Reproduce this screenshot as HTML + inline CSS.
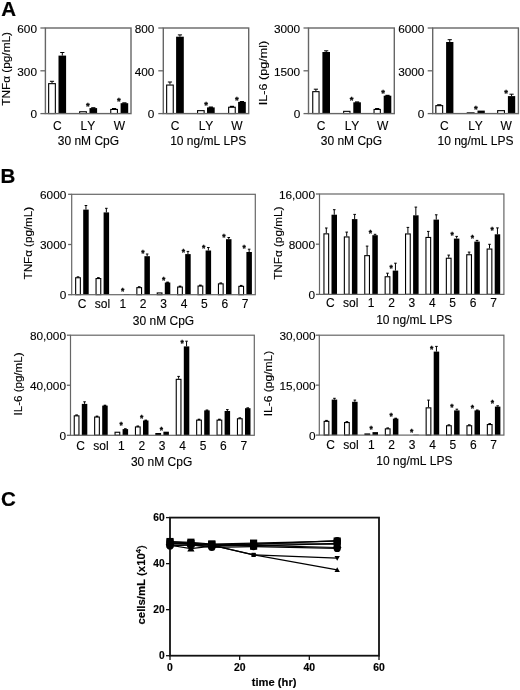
<!DOCTYPE html>
<html><head><meta charset="utf-8"><title>Figure</title>
<style>
html,body{margin:0;padding:0;background:#fff;}
body{width:520px;height:690px;overflow:hidden;}
svg{display:block;}
text{font-family:'Liberation Sans', Arial, Helvetica, sans-serif;font-kerning:none;}
</style></head>
<body>
<svg width="520" height="690" viewBox="0 0 520 690">
<rect x="0" y="0" width="520" height="690" fill="#fff"/>
<text x="1.3" y="16.2" font-size="20.5" font-weight="700" stroke="#000" stroke-width="0.2">A</text>
<line x1="52" y1="81.3" x2="52" y2="83.1" stroke="#000" stroke-width="1" stroke-linecap="butt"/>
<line x1="49.9" y1="81.3" x2="54.1" y2="81.3" stroke="#000" stroke-width="1" stroke-linecap="butt"/>
<line x1="62.3" y1="52.5" x2="62.3" y2="55.6" stroke="#000" stroke-width="1" stroke-linecap="butt"/>
<line x1="60.2" y1="52.5" x2="64.4" y2="52.5" stroke="#000" stroke-width="1" stroke-linecap="butt"/>
<rect x="48.65" y="83.65" width="6.7" height="29.9" fill="#fff" stroke="#000" stroke-width="1.1"/>
<rect x="58.5" y="55.6" width="7.6" height="58" fill="#000"/>
<rect x="91.2" y="107.2" width="4.2" height="1.4" fill="#000"/>
<rect x="79.65" y="111.75" width="6.7" height="1.8" fill="#fff" stroke="#000" stroke-width="1.1"/>
<rect x="89.5" y="108.1" width="7.6" height="5.5" fill="#000"/>
<rect x="112" y="108" width="4.2" height="1.4" fill="#000"/>
<rect x="122.3" y="102.3" width="4.2" height="1.4" fill="#000"/>
<rect x="110.75" y="109.45" width="6.7" height="4.1" fill="#fff" stroke="#000" stroke-width="1.1"/>
<rect x="120.6" y="103.2" width="7.6" height="10.4" fill="#000"/>
<rect x="45.4" y="28" width="85.6" height="85.6" fill="none" stroke="#666" stroke-width="1.4"/>
<line x1="40.4" y1="28" x2="45.4" y2="28" stroke="#666" stroke-width="1.3" stroke-linecap="butt"/>
<text x="37" y="32.7" font-size="11.8" text-anchor="end" stroke="#000" stroke-width="0.12">600</text>
<line x1="40.4" y1="70.8" x2="45.4" y2="70.8" stroke="#666" stroke-width="1.3" stroke-linecap="butt"/>
<text x="37" y="75.5" font-size="11.8" text-anchor="end" stroke="#000" stroke-width="0.12">300</text>
<line x1="40.4" y1="113.6" x2="45.4" y2="113.6" stroke="#666" stroke-width="1.3" stroke-linecap="butt"/>
<text x="37" y="118.3" font-size="11.8" text-anchor="end" stroke="#000" stroke-width="0.12">0</text>
<text x="87.9" y="108.75" font-size="9.5" text-anchor="middle" font-weight="700" stroke="#000" stroke-width="0.3">*</text>
<text x="118.8" y="103.75" font-size="9.5" text-anchor="middle" font-weight="700" stroke="#000" stroke-width="0.3">*</text>
<line x1="169.95" y1="82" x2="169.95" y2="84.5" stroke="#000" stroke-width="1" stroke-linecap="butt"/>
<line x1="167.85" y1="82" x2="172.05" y2="82" stroke="#000" stroke-width="1" stroke-linecap="butt"/>
<line x1="179.95" y1="34.9" x2="179.95" y2="36.7" stroke="#000" stroke-width="1" stroke-linecap="butt"/>
<line x1="177.85" y1="34.9" x2="182.05" y2="34.9" stroke="#000" stroke-width="1" stroke-linecap="butt"/>
<rect x="166.65" y="85.05" width="6.6" height="28.5" fill="#fff" stroke="#000" stroke-width="1.1"/>
<rect x="176.1" y="36.7" width="7.7" height="76.9" fill="#000"/>
<rect x="208.75" y="106.5" width="4.2" height="1.4" fill="#000"/>
<rect x="197.55" y="110.65" width="6.6" height="2.9" fill="#fff" stroke="#000" stroke-width="1.1"/>
<rect x="207" y="107.4" width="7.7" height="6.2" fill="#000"/>
<rect x="229.85" y="105.8" width="4.2" height="1.4" fill="#000"/>
<rect x="239.85" y="101" width="4.2" height="1.4" fill="#000"/>
<rect x="228.65" y="107.25" width="6.6" height="6.3" fill="#fff" stroke="#000" stroke-width="1.1"/>
<rect x="238.1" y="101.9" width="7.7" height="11.7" fill="#000"/>
<rect x="163.3" y="28" width="85.4" height="85.6" fill="none" stroke="#666" stroke-width="1.4"/>
<line x1="158.3" y1="28" x2="163.3" y2="28" stroke="#666" stroke-width="1.3" stroke-linecap="butt"/>
<text x="154.4" y="32.7" font-size="11.8" text-anchor="end" stroke="#000" stroke-width="0.12">800</text>
<line x1="158.3" y1="70.8" x2="163.3" y2="70.8" stroke="#666" stroke-width="1.3" stroke-linecap="butt"/>
<text x="154.4" y="75.5" font-size="11.8" text-anchor="end" stroke="#000" stroke-width="0.12">400</text>
<line x1="158.3" y1="113.6" x2="163.3" y2="113.6" stroke="#666" stroke-width="1.3" stroke-linecap="butt"/>
<text x="154.4" y="118.3" font-size="11.8" text-anchor="end" stroke="#000" stroke-width="0.12">0</text>
<text x="206" y="108.05" font-size="9.5" text-anchor="middle" font-weight="700" stroke="#000" stroke-width="0.3">*</text>
<text x="236.9" y="102.55" font-size="9.5" text-anchor="middle" font-weight="700" stroke="#000" stroke-width="0.3">*</text>
<line x1="315.9" y1="89.2" x2="315.9" y2="91.1" stroke="#000" stroke-width="1" stroke-linecap="butt"/>
<line x1="313.8" y1="89.2" x2="318" y2="89.2" stroke="#000" stroke-width="1" stroke-linecap="butt"/>
<line x1="326.2" y1="50.8" x2="326.2" y2="52" stroke="#000" stroke-width="1" stroke-linecap="butt"/>
<line x1="324.1" y1="50.8" x2="328.3" y2="50.8" stroke="#000" stroke-width="1" stroke-linecap="butt"/>
<rect x="312.75" y="91.65" width="6.3" height="21.9" fill="#fff" stroke="#000" stroke-width="1.1"/>
<rect x="322.4" y="52" width="7.6" height="61.6" fill="#000"/>
<rect x="355" y="101.4" width="4.2" height="1.4" fill="#000"/>
<rect x="343.65" y="111.35" width="6.3" height="2.2" fill="#fff" stroke="#000" stroke-width="1.1"/>
<rect x="353.3" y="102.3" width="7.6" height="11.3" fill="#000"/>
<rect x="375.1" y="108" width="4.2" height="1.4" fill="#000"/>
<rect x="385.4" y="94.8" width="4.2" height="1.4" fill="#000"/>
<rect x="374.05" y="109.45" width="6.3" height="4.1" fill="#fff" stroke="#000" stroke-width="1.1"/>
<rect x="383.7" y="95.7" width="7.6" height="17.9" fill="#000"/>
<rect x="308.5" y="28" width="85.8" height="85.6" fill="none" stroke="#666" stroke-width="1.4"/>
<line x1="303.5" y1="28" x2="308.5" y2="28" stroke="#666" stroke-width="1.3" stroke-linecap="butt"/>
<text x="300.2" y="32.7" font-size="11.8" text-anchor="end" stroke="#000" stroke-width="0.12">3000</text>
<line x1="303.5" y1="70.8" x2="308.5" y2="70.8" stroke="#666" stroke-width="1.3" stroke-linecap="butt"/>
<text x="300.2" y="75.5" font-size="11.8" text-anchor="end" stroke="#000" stroke-width="0.12">1500</text>
<line x1="303.5" y1="113.6" x2="308.5" y2="113.6" stroke="#666" stroke-width="1.3" stroke-linecap="butt"/>
<text x="300.2" y="118.3" font-size="11.8" text-anchor="end" stroke="#000" stroke-width="0.12">0</text>
<text x="351.6" y="103.25" font-size="9.5" text-anchor="middle" font-weight="700" stroke="#000" stroke-width="0.3">*</text>
<text x="383" y="96.25" font-size="9.5" text-anchor="middle" font-weight="700" stroke="#000" stroke-width="0.3">*</text>
<rect x="437.15" y="104.2" width="4.2" height="1.4" fill="#000"/>
<line x1="449.75" y1="39.7" x2="449.75" y2="42" stroke="#000" stroke-width="1" stroke-linecap="butt"/>
<line x1="447.65" y1="39.7" x2="451.85" y2="39.7" stroke="#000" stroke-width="1" stroke-linecap="butt"/>
<rect x="435.85" y="105.65" width="6.8" height="7.9" fill="#fff" stroke="#000" stroke-width="1.1"/>
<rect x="446.1" y="42" width="7.3" height="71.6" fill="#000"/>
<rect x="466.7" y="112.3" width="7.9" height="1.3" fill="#000"/>
<rect x="477.5" y="110.6" width="7.3" height="3" fill="#000"/>
<line x1="511.55" y1="94.2" x2="511.55" y2="96.1" stroke="#000" stroke-width="1" stroke-linecap="butt"/>
<line x1="509.45" y1="94.2" x2="513.65" y2="94.2" stroke="#000" stroke-width="1" stroke-linecap="butt"/>
<rect x="497.65" y="110.65" width="6.8" height="2.9" fill="#fff" stroke="#000" stroke-width="1.1"/>
<rect x="507.9" y="96.1" width="7.3" height="17.5" fill="#000"/>
<rect x="432.7" y="28" width="85.7" height="85.6" fill="none" stroke="#666" stroke-width="1.4"/>
<line x1="427.7" y1="28" x2="432.7" y2="28" stroke="#666" stroke-width="1.3" stroke-linecap="butt"/>
<text x="424.4" y="32.7" font-size="11.8" text-anchor="end" stroke="#000" stroke-width="0.12">6000</text>
<line x1="427.7" y1="70.8" x2="432.7" y2="70.8" stroke="#666" stroke-width="1.3" stroke-linecap="butt"/>
<text x="424.4" y="75.5" font-size="11.8" text-anchor="end" stroke="#000" stroke-width="0.12">3000</text>
<line x1="427.7" y1="113.6" x2="432.7" y2="113.6" stroke="#666" stroke-width="1.3" stroke-linecap="butt"/>
<text x="424.4" y="118.3" font-size="11.8" text-anchor="end" stroke="#000" stroke-width="0.12">0</text>
<text x="475.9" y="111.75" font-size="9.5" text-anchor="middle" font-weight="700" stroke="#000" stroke-width="0.3">*</text>
<text x="506.2" y="95.75" font-size="9.5" text-anchor="middle" font-weight="700" stroke="#000" stroke-width="0.3">*</text>
<text x="57.3" y="130" font-size="12" text-anchor="middle" stroke="#000" stroke-width="0.12">C</text>
<text x="87.8" y="130" font-size="12" text-anchor="middle" stroke="#000" stroke-width="0.12">LY</text>
<text x="119.3" y="130" font-size="12" text-anchor="middle" stroke="#000" stroke-width="0.12">W</text>
<text x="175.2" y="130" font-size="12" text-anchor="middle" stroke="#000" stroke-width="0.12">C</text>
<text x="206" y="130" font-size="12" text-anchor="middle" stroke="#000" stroke-width="0.12">LY</text>
<text x="237" y="130" font-size="12" text-anchor="middle" stroke="#000" stroke-width="0.12">W</text>
<text x="321" y="130" font-size="12" text-anchor="middle" stroke="#000" stroke-width="0.12">C</text>
<text x="352" y="130" font-size="12" text-anchor="middle" stroke="#000" stroke-width="0.12">LY</text>
<text x="382.6" y="130" font-size="12" text-anchor="middle" stroke="#000" stroke-width="0.12">W</text>
<text x="444.4" y="130" font-size="12" text-anchor="middle" stroke="#000" stroke-width="0.12">C</text>
<text x="475.5" y="130" font-size="12" text-anchor="middle" stroke="#000" stroke-width="0.12">LY</text>
<text x="506.2" y="130" font-size="12" text-anchor="middle" stroke="#000" stroke-width="0.12">W</text>
<text x="88.4" y="145" font-size="12" text-anchor="middle" stroke="#000" stroke-width="0.12">30 nM CpG</text>
<text x="208.2" y="145" font-size="12" text-anchor="middle" stroke="#000" stroke-width="0.12">10 ng/mL LPS</text>
<text x="351.4" y="145" font-size="12" text-anchor="middle" stroke="#000" stroke-width="0.12">30 nM CpG</text>
<text x="475.5" y="145" font-size="12" text-anchor="middle" stroke="#000" stroke-width="0.12">10 ng/mL LPS</text>
<text x="10" y="68.9" font-size="11.3" text-anchor="middle" textLength="73.8" lengthAdjust="spacingAndGlyphs" transform="rotate(-90 10 68.9)" stroke="#000" stroke-width="0.12">TNF&#945; (pg/mL)</text>
<text x="267.25" y="72.95" font-size="11.3" text-anchor="middle" textLength="64.6" lengthAdjust="spacingAndGlyphs" transform="rotate(-90 267.25 72.95)" stroke="#000" stroke-width="0.12">IL-6 (pg/ml)</text>
<text x="0.6" y="183.4" font-size="20.5" font-weight="700" stroke="#000" stroke-width="0.2">B</text>
<rect x="76.7" y="276.3" width="2.6" height="1.4" fill="#000"/>
<line x1="85.95" y1="205.5" x2="85.95" y2="209.6" stroke="#000" stroke-width="1" stroke-linecap="butt"/>
<line x1="84.65" y1="205.5" x2="87.25" y2="205.5" stroke="#000" stroke-width="1" stroke-linecap="butt"/>
<rect x="75.65" y="277.75" width="4.7" height="16.9" fill="#fff" stroke="#000" stroke-width="1.1"/>
<rect x="83.2" y="209.6" width="5.5" height="85.1" fill="#000"/>
<rect x="97.1" y="277.1" width="2.6" height="1.4" fill="#000"/>
<line x1="106.35" y1="208.3" x2="106.35" y2="212.4" stroke="#000" stroke-width="1" stroke-linecap="butt"/>
<line x1="105.05" y1="208.3" x2="107.65" y2="208.3" stroke="#000" stroke-width="1" stroke-linecap="butt"/>
<rect x="96.05" y="278.55" width="4.7" height="16.1" fill="#fff" stroke="#000" stroke-width="1.1"/>
<rect x="103.6" y="212.4" width="5.5" height="82.3" fill="#000"/>
<rect x="124" y="294" width="5.5" height="0.7" fill="#000"/>
<rect x="137.9" y="286.2" width="2.6" height="1.4" fill="#000"/>
<line x1="147.15" y1="254" x2="147.15" y2="256.2" stroke="#000" stroke-width="1" stroke-linecap="butt"/>
<line x1="145.85" y1="254" x2="148.45" y2="254" stroke="#000" stroke-width="1" stroke-linecap="butt"/>
<rect x="136.85" y="287.65" width="4.7" height="7" fill="#fff" stroke="#000" stroke-width="1.1"/>
<rect x="144.4" y="256.2" width="5.5" height="38.5" fill="#000"/>
<rect x="166.25" y="281.6" width="2.6" height="1.4" fill="#000"/>
<rect x="157.25" y="292.95" width="4.7" height="1.7" fill="#fff" stroke="#000" stroke-width="1.1"/>
<rect x="164.8" y="282.5" width="5.5" height="12.2" fill="#000"/>
<rect x="178.7" y="285.6" width="2.6" height="1.4" fill="#000"/>
<line x1="187.95" y1="251.4" x2="187.95" y2="254.1" stroke="#000" stroke-width="1" stroke-linecap="butt"/>
<line x1="186.65" y1="251.4" x2="189.25" y2="251.4" stroke="#000" stroke-width="1" stroke-linecap="butt"/>
<rect x="177.65" y="287.05" width="4.7" height="7.6" fill="#fff" stroke="#000" stroke-width="1.1"/>
<rect x="185.2" y="254.1" width="5.5" height="40.6" fill="#000"/>
<rect x="199.1" y="284.6" width="2.6" height="1.4" fill="#000"/>
<line x1="208.35" y1="247.5" x2="208.35" y2="250.5" stroke="#000" stroke-width="1" stroke-linecap="butt"/>
<line x1="207.05" y1="247.5" x2="209.65" y2="247.5" stroke="#000" stroke-width="1" stroke-linecap="butt"/>
<rect x="198.05" y="286.05" width="4.7" height="8.6" fill="#fff" stroke="#000" stroke-width="1.1"/>
<rect x="205.6" y="250.5" width="5.5" height="44.2" fill="#000"/>
<rect x="219.5" y="282.4" width="2.6" height="1.4" fill="#000"/>
<line x1="228.75" y1="237.5" x2="228.75" y2="239.2" stroke="#000" stroke-width="1" stroke-linecap="butt"/>
<line x1="227.45" y1="237.5" x2="230.05" y2="237.5" stroke="#000" stroke-width="1" stroke-linecap="butt"/>
<rect x="218.45" y="283.85" width="4.7" height="10.8" fill="#fff" stroke="#000" stroke-width="1.1"/>
<rect x="226" y="239.2" width="5.5" height="55.5" fill="#000"/>
<rect x="239.9" y="284.9" width="2.6" height="1.4" fill="#000"/>
<line x1="249.15" y1="249.2" x2="249.15" y2="252" stroke="#000" stroke-width="1" stroke-linecap="butt"/>
<line x1="247.85" y1="249.2" x2="250.45" y2="249.2" stroke="#000" stroke-width="1" stroke-linecap="butt"/>
<rect x="238.85" y="286.35" width="4.7" height="8.3" fill="#fff" stroke="#000" stroke-width="1.1"/>
<rect x="246.4" y="252" width="5.5" height="42.7" fill="#000"/>
<rect x="71.7" y="194.3" width="183.6" height="100.4" fill="none" stroke="#666" stroke-width="1.2"/>
<line x1="68.1" y1="194.3" x2="71.7" y2="194.3" stroke="#666" stroke-width="1.3" stroke-linecap="butt"/>
<text x="66.3" y="199" font-size="11.8" text-anchor="end" stroke="#000" stroke-width="0.12">6000</text>
<line x1="68.1" y1="244.5" x2="71.7" y2="244.5" stroke="#666" stroke-width="1.3" stroke-linecap="butt"/>
<text x="66.3" y="249.2" font-size="11.8" text-anchor="end" stroke="#000" stroke-width="0.12">3000</text>
<line x1="68.1" y1="294.7" x2="71.7" y2="294.7" stroke="#666" stroke-width="1.3" stroke-linecap="butt"/>
<text x="66.3" y="299.4" font-size="11.8" text-anchor="end" stroke="#000" stroke-width="0.12">0</text>
<text x="122.7" y="294.45" font-size="8.5" text-anchor="middle" font-weight="700" stroke="#000" stroke-width="0.3">*</text>
<text x="142.8" y="256.15" font-size="8.5" text-anchor="middle" font-weight="700" stroke="#000" stroke-width="0.3">*</text>
<text x="163.6" y="282.75" font-size="8.5" text-anchor="middle" font-weight="700" stroke="#000" stroke-width="0.3">*</text>
<text x="183.4" y="254.65" font-size="8.5" text-anchor="middle" font-weight="700" stroke="#000" stroke-width="0.3">*</text>
<text x="203.7" y="250.55" font-size="8.5" text-anchor="middle" font-weight="700" stroke="#000" stroke-width="0.3">*</text>
<text x="224" y="239.85" font-size="8.5" text-anchor="middle" font-weight="700" stroke="#000" stroke-width="0.3">*</text>
<text x="244.2" y="251.45" font-size="8.5" text-anchor="middle" font-weight="700" stroke="#000" stroke-width="0.3">*</text>
<line x1="326.3" y1="228" x2="326.3" y2="233.3" stroke="#000" stroke-width="1" stroke-linecap="butt"/>
<line x1="325" y1="228" x2="327.6" y2="228" stroke="#000" stroke-width="1" stroke-linecap="butt"/>
<line x1="334.25" y1="209.7" x2="334.25" y2="214.7" stroke="#000" stroke-width="1" stroke-linecap="butt"/>
<line x1="332.95" y1="209.7" x2="335.55" y2="209.7" stroke="#000" stroke-width="1" stroke-linecap="butt"/>
<rect x="323.95" y="233.85" width="4.7" height="60.5" fill="#fff" stroke="#000" stroke-width="1.1"/>
<rect x="331.5" y="214.7" width="5.5" height="79.7" fill="#000"/>
<line x1="346.7" y1="232.1" x2="346.7" y2="236.4" stroke="#000" stroke-width="1" stroke-linecap="butt"/>
<line x1="345.4" y1="232.1" x2="348" y2="232.1" stroke="#000" stroke-width="1" stroke-linecap="butt"/>
<line x1="354.65" y1="214.4" x2="354.65" y2="219.1" stroke="#000" stroke-width="1" stroke-linecap="butt"/>
<line x1="353.35" y1="214.4" x2="355.95" y2="214.4" stroke="#000" stroke-width="1" stroke-linecap="butt"/>
<rect x="344.35" y="236.95" width="4.7" height="57.4" fill="#fff" stroke="#000" stroke-width="1.1"/>
<rect x="351.9" y="219.1" width="5.5" height="75.3" fill="#000"/>
<line x1="367.1" y1="246.1" x2="367.1" y2="255.1" stroke="#000" stroke-width="1" stroke-linecap="butt"/>
<line x1="365.8" y1="246.1" x2="368.4" y2="246.1" stroke="#000" stroke-width="1" stroke-linecap="butt"/>
<line x1="375.05" y1="234.3" x2="375.05" y2="235.2" stroke="#000" stroke-width="1" stroke-linecap="butt"/>
<line x1="373.75" y1="234.3" x2="376.35" y2="234.3" stroke="#000" stroke-width="1" stroke-linecap="butt"/>
<rect x="364.75" y="255.65" width="4.7" height="38.7" fill="#fff" stroke="#000" stroke-width="1.1"/>
<rect x="372.3" y="235.2" width="5.5" height="59.2" fill="#000"/>
<line x1="387.5" y1="273.2" x2="387.5" y2="276.2" stroke="#000" stroke-width="1" stroke-linecap="butt"/>
<line x1="386.2" y1="273.2" x2="388.8" y2="273.2" stroke="#000" stroke-width="1" stroke-linecap="butt"/>
<line x1="395.45" y1="263.2" x2="395.45" y2="270.6" stroke="#000" stroke-width="1" stroke-linecap="butt"/>
<line x1="394.15" y1="263.2" x2="396.75" y2="263.2" stroke="#000" stroke-width="1" stroke-linecap="butt"/>
<rect x="385.15" y="276.75" width="4.7" height="17.6" fill="#fff" stroke="#000" stroke-width="1.1"/>
<rect x="392.7" y="270.6" width="5.5" height="23.8" fill="#000"/>
<line x1="407.9" y1="227.4" x2="407.9" y2="233.4" stroke="#000" stroke-width="1" stroke-linecap="butt"/>
<line x1="406.6" y1="227.4" x2="409.2" y2="227.4" stroke="#000" stroke-width="1" stroke-linecap="butt"/>
<line x1="415.85" y1="207.1" x2="415.85" y2="215.3" stroke="#000" stroke-width="1" stroke-linecap="butt"/>
<line x1="414.55" y1="207.1" x2="417.15" y2="207.1" stroke="#000" stroke-width="1" stroke-linecap="butt"/>
<rect x="405.55" y="233.95" width="4.7" height="60.4" fill="#fff" stroke="#000" stroke-width="1.1"/>
<rect x="413.1" y="215.3" width="5.5" height="79.1" fill="#000"/>
<line x1="428.3" y1="231.4" x2="428.3" y2="236.9" stroke="#000" stroke-width="1" stroke-linecap="butt"/>
<line x1="427" y1="231.4" x2="429.6" y2="231.4" stroke="#000" stroke-width="1" stroke-linecap="butt"/>
<line x1="436.25" y1="214.8" x2="436.25" y2="219.6" stroke="#000" stroke-width="1" stroke-linecap="butt"/>
<line x1="434.95" y1="214.8" x2="437.55" y2="214.8" stroke="#000" stroke-width="1" stroke-linecap="butt"/>
<rect x="425.95" y="237.45" width="4.7" height="56.9" fill="#fff" stroke="#000" stroke-width="1.1"/>
<rect x="433.5" y="219.6" width="5.5" height="74.8" fill="#000"/>
<line x1="448.7" y1="255.1" x2="448.7" y2="257.7" stroke="#000" stroke-width="1" stroke-linecap="butt"/>
<line x1="447.4" y1="255.1" x2="450" y2="255.1" stroke="#000" stroke-width="1" stroke-linecap="butt"/>
<line x1="456.65" y1="236.4" x2="456.65" y2="238.6" stroke="#000" stroke-width="1" stroke-linecap="butt"/>
<line x1="455.35" y1="236.4" x2="457.95" y2="236.4" stroke="#000" stroke-width="1" stroke-linecap="butt"/>
<rect x="446.35" y="258.25" width="4.7" height="36.1" fill="#fff" stroke="#000" stroke-width="1.1"/>
<rect x="453.9" y="238.6" width="5.5" height="55.8" fill="#000"/>
<line x1="469.1" y1="252.1" x2="469.1" y2="254.2" stroke="#000" stroke-width="1" stroke-linecap="butt"/>
<line x1="467.8" y1="252.1" x2="470.4" y2="252.1" stroke="#000" stroke-width="1" stroke-linecap="butt"/>
<line x1="477.05" y1="240.4" x2="477.05" y2="241.6" stroke="#000" stroke-width="1" stroke-linecap="butt"/>
<line x1="475.75" y1="240.4" x2="478.35" y2="240.4" stroke="#000" stroke-width="1" stroke-linecap="butt"/>
<rect x="466.75" y="254.75" width="4.7" height="39.6" fill="#fff" stroke="#000" stroke-width="1.1"/>
<rect x="474.3" y="241.6" width="5.5" height="52.8" fill="#000"/>
<line x1="489.5" y1="244.3" x2="489.5" y2="248.5" stroke="#000" stroke-width="1" stroke-linecap="butt"/>
<line x1="488.2" y1="244.3" x2="490.8" y2="244.3" stroke="#000" stroke-width="1" stroke-linecap="butt"/>
<line x1="497.45" y1="227.9" x2="497.45" y2="234.3" stroke="#000" stroke-width="1" stroke-linecap="butt"/>
<line x1="496.15" y1="227.9" x2="498.75" y2="227.9" stroke="#000" stroke-width="1" stroke-linecap="butt"/>
<rect x="487.15" y="249.05" width="4.7" height="45.3" fill="#fff" stroke="#000" stroke-width="1.1"/>
<rect x="494.7" y="234.3" width="5.5" height="60.1" fill="#000"/>
<rect x="319.5" y="194" width="184.4" height="100.4" fill="none" stroke="#666" stroke-width="1.2"/>
<line x1="315.9" y1="194" x2="319.5" y2="194" stroke="#666" stroke-width="1.3" stroke-linecap="butt"/>
<text x="315" y="198.7" font-size="11.8" text-anchor="end" stroke="#000" stroke-width="0.12">16,000</text>
<line x1="315.9" y1="244.2" x2="319.5" y2="244.2" stroke="#666" stroke-width="1.3" stroke-linecap="butt"/>
<text x="315" y="248.9" font-size="11.8" text-anchor="end" stroke="#000" stroke-width="0.12">8000</text>
<line x1="315.9" y1="294.4" x2="319.5" y2="294.4" stroke="#666" stroke-width="1.3" stroke-linecap="butt"/>
<text x="315" y="299.1" font-size="11.8" text-anchor="end" stroke="#000" stroke-width="0.12">0</text>
<text x="370.5" y="235.95" font-size="8.5" text-anchor="middle" font-weight="700" stroke="#000" stroke-width="0.3">*</text>
<text x="391.1" y="270.55" font-size="8.5" text-anchor="middle" font-weight="700" stroke="#000" stroke-width="0.3">*</text>
<text x="452.1" y="238.25" font-size="8.5" text-anchor="middle" font-weight="700" stroke="#000" stroke-width="0.3">*</text>
<text x="472.3" y="241.15" font-size="8.5" text-anchor="middle" font-weight="700" stroke="#000" stroke-width="0.3">*</text>
<text x="492.2" y="233.35" font-size="8.5" text-anchor="middle" font-weight="700" stroke="#000" stroke-width="0.3">*</text>
<rect x="75.3" y="414.4" width="2.6" height="1.4" fill="#000"/>
<line x1="84.55" y1="401.8" x2="84.55" y2="403.9" stroke="#000" stroke-width="1" stroke-linecap="butt"/>
<line x1="83.25" y1="401.8" x2="85.85" y2="401.8" stroke="#000" stroke-width="1" stroke-linecap="butt"/>
<rect x="74.25" y="415.85" width="4.7" height="19.4" fill="#fff" stroke="#000" stroke-width="1.1"/>
<rect x="81.8" y="403.9" width="5.5" height="31.4" fill="#000"/>
<rect x="95.7" y="415.6" width="2.6" height="1.4" fill="#000"/>
<rect x="103.65" y="404.7" width="2.6" height="1.4" fill="#000"/>
<rect x="94.65" y="417.05" width="4.7" height="18.2" fill="#fff" stroke="#000" stroke-width="1.1"/>
<rect x="102.2" y="405.6" width="5.5" height="29.7" fill="#000"/>
<rect x="124.05" y="428.2" width="2.6" height="1.4" fill="#000"/>
<rect x="115.05" y="432.25" width="4.7" height="3" fill="#fff" stroke="#000" stroke-width="1.1"/>
<rect x="122.6" y="429.1" width="5.5" height="6.2" fill="#000"/>
<rect x="136.5" y="425.5" width="2.6" height="1.4" fill="#000"/>
<rect x="144.45" y="419.6" width="2.6" height="1.4" fill="#000"/>
<rect x="135.45" y="426.95" width="4.7" height="8.3" fill="#fff" stroke="#000" stroke-width="1.1"/>
<rect x="143" y="420.5" width="5.5" height="14.8" fill="#000"/>
<rect x="155.3" y="433" width="5.8" height="2.3" fill="#000"/>
<rect x="163.4" y="431.7" width="5.5" height="3.6" fill="#000"/>
<line x1="178.6" y1="376.4" x2="178.6" y2="378.8" stroke="#000" stroke-width="1" stroke-linecap="butt"/>
<line x1="177.3" y1="376.4" x2="179.9" y2="376.4" stroke="#000" stroke-width="1" stroke-linecap="butt"/>
<line x1="186.55" y1="341.2" x2="186.55" y2="346.4" stroke="#000" stroke-width="1" stroke-linecap="butt"/>
<line x1="185.25" y1="341.2" x2="187.85" y2="341.2" stroke="#000" stroke-width="1" stroke-linecap="butt"/>
<rect x="176.25" y="379.35" width="4.7" height="55.9" fill="#fff" stroke="#000" stroke-width="1.1"/>
<rect x="183.8" y="346.4" width="5.5" height="88.9" fill="#000"/>
<rect x="197.7" y="418.7" width="2.6" height="1.4" fill="#000"/>
<rect x="205.65" y="409.5" width="2.6" height="1.4" fill="#000"/>
<rect x="196.65" y="420.15" width="4.7" height="15.1" fill="#fff" stroke="#000" stroke-width="1.1"/>
<rect x="204.2" y="410.4" width="5.5" height="24.9" fill="#000"/>
<rect x="218.1" y="418.7" width="2.6" height="1.4" fill="#000"/>
<line x1="227.35" y1="409.6" x2="227.35" y2="411" stroke="#000" stroke-width="1" stroke-linecap="butt"/>
<line x1="226.05" y1="409.6" x2="228.65" y2="409.6" stroke="#000" stroke-width="1" stroke-linecap="butt"/>
<rect x="217.05" y="420.15" width="4.7" height="15.1" fill="#fff" stroke="#000" stroke-width="1.1"/>
<rect x="224.6" y="411" width="5.5" height="24.3" fill="#000"/>
<rect x="238.5" y="417.3" width="2.6" height="1.4" fill="#000"/>
<rect x="246.45" y="407.3" width="2.6" height="1.4" fill="#000"/>
<rect x="237.45" y="418.75" width="4.7" height="16.5" fill="#fff" stroke="#000" stroke-width="1.1"/>
<rect x="245" y="408.2" width="5.5" height="27.1" fill="#000"/>
<rect x="70.5" y="335.2" width="183.8" height="100.1" fill="none" stroke="#666" stroke-width="1.2"/>
<line x1="66.9" y1="335.2" x2="70.5" y2="335.2" stroke="#666" stroke-width="1.3" stroke-linecap="butt"/>
<text x="66" y="339.9" font-size="11.8" text-anchor="end" stroke="#000" stroke-width="0.12">80,000</text>
<line x1="66.9" y1="385.25" x2="70.5" y2="385.25" stroke="#666" stroke-width="1.3" stroke-linecap="butt"/>
<text x="66" y="389.95" font-size="11.8" text-anchor="end" stroke="#000" stroke-width="0.12">40,000</text>
<line x1="66.9" y1="435.3" x2="70.5" y2="435.3" stroke="#666" stroke-width="1.3" stroke-linecap="butt"/>
<text x="66" y="440" font-size="11.8" text-anchor="end" stroke="#000" stroke-width="0.12">0</text>
<text x="121.2" y="428.15" font-size="8.5" text-anchor="middle" font-weight="700" stroke="#000" stroke-width="0.3">*</text>
<text x="141.6" y="420.75" font-size="8.5" text-anchor="middle" font-weight="700" stroke="#000" stroke-width="0.3">*</text>
<text x="161.5" y="432.55" font-size="8.5" text-anchor="middle" font-weight="700" stroke="#000" stroke-width="0.3">*</text>
<text x="182.2" y="346.35" font-size="8.5" text-anchor="middle" font-weight="700" stroke="#000" stroke-width="0.3">*</text>
<rect x="325.2" y="419.9" width="2.6" height="1.4" fill="#000"/>
<line x1="334.45" y1="398.3" x2="334.45" y2="399.6" stroke="#000" stroke-width="1" stroke-linecap="butt"/>
<line x1="333.15" y1="398.3" x2="335.75" y2="398.3" stroke="#000" stroke-width="1" stroke-linecap="butt"/>
<rect x="324.15" y="421.35" width="4.7" height="13.7" fill="#fff" stroke="#000" stroke-width="1.1"/>
<rect x="331.7" y="399.6" width="5.5" height="35.5" fill="#000"/>
<rect x="345.6" y="421.1" width="2.6" height="1.4" fill="#000"/>
<line x1="354.85" y1="400.1" x2="354.85" y2="401.8" stroke="#000" stroke-width="1" stroke-linecap="butt"/>
<line x1="353.55" y1="400.1" x2="356.15" y2="400.1" stroke="#000" stroke-width="1" stroke-linecap="butt"/>
<rect x="344.55" y="422.55" width="4.7" height="12.5" fill="#fff" stroke="#000" stroke-width="1.1"/>
<rect x="352.1" y="401.8" width="5.5" height="33.3" fill="#000"/>
<rect x="364.4" y="433.4" width="5.8" height="1.7" fill="#000"/>
<rect x="372.5" y="432.1" width="5.5" height="3" fill="#000"/>
<rect x="386.4" y="427.4" width="2.6" height="1.4" fill="#000"/>
<rect x="394.35" y="417.7" width="2.6" height="1.4" fill="#000"/>
<rect x="385.35" y="428.85" width="4.7" height="6.2" fill="#fff" stroke="#000" stroke-width="1.1"/>
<rect x="392.9" y="418.6" width="5.5" height="16.5" fill="#000"/>
<rect x="413.3" y="434.7" width="5.5" height="0.4" fill="#000"/>
<line x1="428.5" y1="400.1" x2="428.5" y2="407.3" stroke="#000" stroke-width="1" stroke-linecap="butt"/>
<line x1="427.2" y1="400.1" x2="429.8" y2="400.1" stroke="#000" stroke-width="1" stroke-linecap="butt"/>
<line x1="436.45" y1="346.4" x2="436.45" y2="351.6" stroke="#000" stroke-width="1" stroke-linecap="butt"/>
<line x1="435.15" y1="346.4" x2="437.75" y2="346.4" stroke="#000" stroke-width="1" stroke-linecap="butt"/>
<rect x="426.15" y="407.85" width="4.7" height="27.2" fill="#fff" stroke="#000" stroke-width="1.1"/>
<rect x="433.7" y="351.6" width="5.5" height="83.5" fill="#000"/>
<rect x="447.6" y="424.3" width="2.6" height="1.4" fill="#000"/>
<line x1="456.85" y1="409.2" x2="456.85" y2="410.4" stroke="#000" stroke-width="1" stroke-linecap="butt"/>
<line x1="455.55" y1="409.2" x2="458.15" y2="409.2" stroke="#000" stroke-width="1" stroke-linecap="butt"/>
<rect x="446.55" y="425.75" width="4.7" height="9.3" fill="#fff" stroke="#000" stroke-width="1.1"/>
<rect x="454.1" y="410.4" width="5.5" height="24.7" fill="#000"/>
<rect x="468" y="424.3" width="2.6" height="1.4" fill="#000"/>
<rect x="475.95" y="409.5" width="2.6" height="1.4" fill="#000"/>
<rect x="466.95" y="425.75" width="4.7" height="9.3" fill="#fff" stroke="#000" stroke-width="1.1"/>
<rect x="474.5" y="410.4" width="5.5" height="24.7" fill="#000"/>
<rect x="488.4" y="423.1" width="2.6" height="1.4" fill="#000"/>
<line x1="497.65" y1="405.8" x2="497.65" y2="406.6" stroke="#000" stroke-width="1" stroke-linecap="butt"/>
<line x1="496.35" y1="405.8" x2="498.95" y2="405.8" stroke="#000" stroke-width="1" stroke-linecap="butt"/>
<rect x="487.35" y="424.55" width="4.7" height="10.5" fill="#fff" stroke="#000" stroke-width="1.1"/>
<rect x="494.9" y="406.6" width="5.5" height="28.5" fill="#000"/>
<rect x="319.3" y="335.2" width="184.6" height="99.9" fill="none" stroke="#666" stroke-width="1.2"/>
<line x1="315.7" y1="335.2" x2="319.3" y2="335.2" stroke="#666" stroke-width="1.3" stroke-linecap="butt"/>
<text x="315.6" y="339.9" font-size="11.8" text-anchor="end" stroke="#000" stroke-width="0.12">30,000</text>
<line x1="315.7" y1="385.15" x2="319.3" y2="385.15" stroke="#666" stroke-width="1.3" stroke-linecap="butt"/>
<text x="315.6" y="389.85" font-size="11.8" text-anchor="end" stroke="#000" stroke-width="0.12">15,000</text>
<line x1="315.7" y1="435.1" x2="319.3" y2="435.1" stroke="#666" stroke-width="1.3" stroke-linecap="butt"/>
<text x="315.6" y="439.8" font-size="11.8" text-anchor="end" stroke="#000" stroke-width="0.12">0</text>
<text x="371.2" y="432.35" font-size="8.5" text-anchor="middle" font-weight="700" stroke="#000" stroke-width="0.3">*</text>
<text x="391.1" y="418.65" font-size="8.5" text-anchor="middle" font-weight="700" stroke="#000" stroke-width="0.3">*</text>
<text x="411.7" y="435.45" font-size="8.5" text-anchor="middle" font-weight="700" stroke="#000" stroke-width="0.3">*</text>
<text x="431.6" y="352.05" font-size="8.5" text-anchor="middle" font-weight="700" stroke="#000" stroke-width="0.3">*</text>
<text x="451.9" y="410.05" font-size="8.5" text-anchor="middle" font-weight="700" stroke="#000" stroke-width="0.3">*</text>
<text x="472.3" y="410.75" font-size="8.5" text-anchor="middle" font-weight="700" stroke="#000" stroke-width="0.3">*</text>
<text x="492.5" y="406.05" font-size="8.5" text-anchor="middle" font-weight="700" stroke="#000" stroke-width="0.3">*</text>
<text x="82" y="308.4" font-size="12" text-anchor="middle" stroke="#000" stroke-width="0.12">C</text>
<text x="102.4" y="308.4" font-size="12" text-anchor="middle" stroke="#000" stroke-width="0.12">sol</text>
<text x="122.8" y="308.4" font-size="12" text-anchor="middle" stroke="#000" stroke-width="0.12">1</text>
<text x="143.2" y="308.4" font-size="12" text-anchor="middle" stroke="#000" stroke-width="0.12">2</text>
<text x="163.6" y="308.4" font-size="12" text-anchor="middle" stroke="#000" stroke-width="0.12">3</text>
<text x="184" y="308.4" font-size="12" text-anchor="middle" stroke="#000" stroke-width="0.12">4</text>
<text x="204.4" y="308.4" font-size="12" text-anchor="middle" stroke="#000" stroke-width="0.12">5</text>
<text x="224.8" y="308.4" font-size="12" text-anchor="middle" stroke="#000" stroke-width="0.12">6</text>
<text x="245.2" y="308.4" font-size="12" text-anchor="middle" stroke="#000" stroke-width="0.12">7</text>
<text x="330.3" y="307.2" font-size="12" text-anchor="middle" stroke="#000" stroke-width="0.12">C</text>
<text x="350.7" y="307.2" font-size="12" text-anchor="middle" stroke="#000" stroke-width="0.12">sol</text>
<text x="371.1" y="307.2" font-size="12" text-anchor="middle" stroke="#000" stroke-width="0.12">1</text>
<text x="391.5" y="307.2" font-size="12" text-anchor="middle" stroke="#000" stroke-width="0.12">2</text>
<text x="411.9" y="307.2" font-size="12" text-anchor="middle" stroke="#000" stroke-width="0.12">3</text>
<text x="432.3" y="307.2" font-size="12" text-anchor="middle" stroke="#000" stroke-width="0.12">4</text>
<text x="452.7" y="307.2" font-size="12" text-anchor="middle" stroke="#000" stroke-width="0.12">5</text>
<text x="473.1" y="307.2" font-size="12" text-anchor="middle" stroke="#000" stroke-width="0.12">6</text>
<text x="493.5" y="307.2" font-size="12" text-anchor="middle" stroke="#000" stroke-width="0.12">7</text>
<text x="80.6" y="449.6" font-size="12" text-anchor="middle" stroke="#000" stroke-width="0.12">C</text>
<text x="101" y="449.6" font-size="12" text-anchor="middle" stroke="#000" stroke-width="0.12">sol</text>
<text x="121.4" y="449.6" font-size="12" text-anchor="middle" stroke="#000" stroke-width="0.12">1</text>
<text x="141.8" y="449.6" font-size="12" text-anchor="middle" stroke="#000" stroke-width="0.12">2</text>
<text x="162.2" y="449.6" font-size="12" text-anchor="middle" stroke="#000" stroke-width="0.12">3</text>
<text x="182.6" y="449.6" font-size="12" text-anchor="middle" stroke="#000" stroke-width="0.12">4</text>
<text x="203" y="449.6" font-size="12" text-anchor="middle" stroke="#000" stroke-width="0.12">5</text>
<text x="223.4" y="449.6" font-size="12" text-anchor="middle" stroke="#000" stroke-width="0.12">6</text>
<text x="243.8" y="449.6" font-size="12" text-anchor="middle" stroke="#000" stroke-width="0.12">7</text>
<text x="330.5" y="449.1" font-size="12" text-anchor="middle" stroke="#000" stroke-width="0.12">C</text>
<text x="350.9" y="449.1" font-size="12" text-anchor="middle" stroke="#000" stroke-width="0.12">sol</text>
<text x="371.3" y="449.1" font-size="12" text-anchor="middle" stroke="#000" stroke-width="0.12">1</text>
<text x="391.7" y="449.1" font-size="12" text-anchor="middle" stroke="#000" stroke-width="0.12">2</text>
<text x="412.1" y="449.1" font-size="12" text-anchor="middle" stroke="#000" stroke-width="0.12">3</text>
<text x="432.5" y="449.1" font-size="12" text-anchor="middle" stroke="#000" stroke-width="0.12">4</text>
<text x="452.9" y="449.1" font-size="12" text-anchor="middle" stroke="#000" stroke-width="0.12">5</text>
<text x="473.3" y="449.1" font-size="12" text-anchor="middle" stroke="#000" stroke-width="0.12">6</text>
<text x="493.7" y="449.1" font-size="12" text-anchor="middle" stroke="#000" stroke-width="0.12">7</text>
<text x="163.5" y="325.4" font-size="12" text-anchor="middle" stroke="#000" stroke-width="0.12">30 nM CpG</text>
<text x="414.2" y="324.3" font-size="12" text-anchor="middle" stroke="#000" stroke-width="0.12">10 ng/mL LPS</text>
<text x="161.6" y="466.2" font-size="12" text-anchor="middle" stroke="#000" stroke-width="0.12">30 nM CpG</text>
<text x="414.4" y="465.3" font-size="12" text-anchor="middle" stroke="#000" stroke-width="0.12">10 ng/mL LPS</text>
<text x="31.9" y="243.15" font-size="11.3" text-anchor="middle" textLength="72.5" lengthAdjust="spacingAndGlyphs" transform="rotate(-90 31.9 243.15)" stroke="#000" stroke-width="0.12">TNF&#945; (pg/mL)</text>
<text x="281.6" y="243.25" font-size="11.3" text-anchor="middle" textLength="73.2" lengthAdjust="spacingAndGlyphs" transform="rotate(-90 281.6 243.25)" stroke="#000" stroke-width="0.12">TNF&#945; (pg/mL)</text>
<text x="22.2" y="384" font-size="11.3" text-anchor="middle" textLength="63" lengthAdjust="spacingAndGlyphs" transform="rotate(-90 22.2 384)" stroke="#000" stroke-width="0.12">IL-6 (pg/mL)</text>
<text x="272.4" y="383.55" font-size="11.3" text-anchor="middle" textLength="65.6" lengthAdjust="spacingAndGlyphs" transform="rotate(-90 272.4 383.55)" stroke="#000" stroke-width="0.12">IL-6 (pg/mL)</text>
<text x="1" y="505.9" font-size="20.5" font-weight="700" stroke="#000" stroke-width="0.2">C</text>
<rect x="170" y="517.6" width="209" height="138.1" fill="none" stroke="#111" stroke-width="1.8"/>
<line x1="166" y1="517.6" x2="170" y2="517.6" stroke="#111" stroke-width="1.3" stroke-linecap="butt"/>
<text x="164.6" y="521.2" font-size="10.2" text-anchor="end" font-weight="700" stroke="#000" stroke-width="0.15">60</text>
<line x1="166" y1="563.63" x2="170" y2="563.63" stroke="#111" stroke-width="1.3" stroke-linecap="butt"/>
<text x="164.6" y="567.23" font-size="10.2" text-anchor="end" font-weight="700" stroke="#000" stroke-width="0.15">40</text>
<line x1="166" y1="609.67" x2="170" y2="609.67" stroke="#111" stroke-width="1.3" stroke-linecap="butt"/>
<text x="164.6" y="613.27" font-size="10.2" text-anchor="end" font-weight="700" stroke="#000" stroke-width="0.15">20</text>
<line x1="166" y1="655.7" x2="170" y2="655.7" stroke="#111" stroke-width="1.3" stroke-linecap="butt"/>
<text x="164.6" y="659.3" font-size="10.2" text-anchor="end" font-weight="700" stroke="#000" stroke-width="0.15">0</text>
<line x1="170" y1="655.7" x2="170" y2="660" stroke="#111" stroke-width="1.3" stroke-linecap="butt"/>
<text x="170" y="670.8" font-size="10.4" text-anchor="middle" font-weight="700" stroke="#000" stroke-width="0.15">0</text>
<line x1="239.67" y1="655.7" x2="239.67" y2="660" stroke="#111" stroke-width="1.3" stroke-linecap="butt"/>
<text x="239.67" y="670.8" font-size="10.4" text-anchor="middle" font-weight="700" stroke="#000" stroke-width="0.15">20</text>
<line x1="309.33" y1="655.7" x2="309.33" y2="660" stroke="#111" stroke-width="1.3" stroke-linecap="butt"/>
<text x="309.33" y="670.8" font-size="10.4" text-anchor="middle" font-weight="700" stroke="#000" stroke-width="0.15">40</text>
<line x1="379" y1="655.7" x2="379" y2="660" stroke="#111" stroke-width="1.3" stroke-linecap="butt"/>
<text x="379" y="670.8" font-size="10.4" text-anchor="middle" font-weight="700" stroke="#000" stroke-width="0.15">60</text>
<text x="274.1" y="685.8" font-size="11.2" text-anchor="middle" font-weight="700" stroke="#000" stroke-width="0.15">time (hr)</text>
<text x="145.2" y="584.8" font-size="11.35" text-anchor="middle" font-weight="700" transform="rotate(-90 145.2 584.8)" stroke="#000" stroke-width="0.15">cells/mL (x10<tspan font-size="7.6" dy="-4.6">4</tspan><tspan dy="4.6" font-weight="400">)</tspan></text>
<polyline points="170,541.54 190.9,542.23 211.8,544.07 253.6,543.15 337.2,541.08" fill="none" stroke="#000" stroke-width="1.2"/>
<polyline points="170,542.92 190.9,543.38 211.8,544.76 253.6,544.3 337.2,540.62" fill="none" stroke="#000" stroke-width="1.2"/>
<polyline points="170,545.22 190.9,548.67 211.8,546.14 253.6,543.84 337.2,544.07" fill="none" stroke="#000" stroke-width="1.2"/>
<polyline points="170,544.76 190.9,545.22 211.8,546.14 253.6,545.45 337.2,547.52" fill="none" stroke="#000" stroke-width="1.2"/>
<polyline points="170,545.91 190.9,544.99 211.8,547.52 253.6,546.6 337.2,548.44" fill="none" stroke="#000" stroke-width="1.2"/>
<polyline points="170,543.38 190.9,543.84 211.8,544.3 253.6,546.14 337.2,543.38" fill="none" stroke="#000" stroke-width="1.2"/>
<polyline points="170,541.77 190.9,543.15 211.8,545.22 253.6,554.89 337.2,558.11" fill="none" stroke="#000" stroke-width="1.2"/>
<polyline points="170,542.92 190.9,544.07 211.8,545.22 253.6,554.89 337.2,569.85" fill="none" stroke="#000" stroke-width="1.2"/>
<polygon points="170,541.62 173.6,548.1 166.4,548.1" fill="#000"/>
<polygon points="190.9,545.07 194.5,551.55 187.3,551.55" fill="#000"/>
<polygon points="211.8,542.54 215.4,549.02 208.2,549.02" fill="#000"/>
<rect x="251.6" y="541.84" width="4" height="4" fill="#000"/>
<polygon points="337.2,541.37 339.9,546.23 334.5,546.23" fill="#000"/>
<polygon points="170,539.32 173.6,545.8 166.4,545.8" fill="#000"/>
<polygon points="190.9,540.47 194.5,546.95 187.3,546.95" fill="#000"/>
<polygon points="211.8,541.62 215.4,548.1 208.2,548.1" fill="#000"/>
<rect x="251.6" y="552.89" width="4" height="4" fill="#000"/>
<polygon points="337.2,567.15 339.9,572.01 334.5,572.01" fill="#000"/>
<polygon points="166.4,538.89 173.6,538.89 170,545.37" fill="#000"/>
<polygon points="187.3,540.27 194.5,540.27 190.9,546.75" fill="#000"/>
<polygon points="208.2,542.34 215.4,542.34 211.8,548.82" fill="#000"/>
<rect x="251.6" y="552.89" width="4" height="4" fill="#000"/>
<polygon points="334.5,555.95 339.9,555.95 337.2,560.81" fill="#000"/>
<polygon points="170,540.44 174.32,544.76 170,549.08 165.68,544.76" fill="#000"/>
<polygon points="190.9,540.9 195.22,545.22 190.9,549.54 186.58,545.22" fill="#000"/>
<polygon points="211.8,541.82 216.12,546.14 211.8,550.46 207.48,546.14" fill="#000"/>
<polygon points="253.6,541.13 257.92,545.45 253.6,549.77 249.28,545.45" fill="#000"/>
<polygon points="337.2,543.2 341.52,547.52 337.2,551.84 332.88,547.52" fill="#000"/>
<circle cx="170" cy="542.92" r="3.6" fill="#000"/>
<circle cx="190.9" cy="543.38" r="3.6" fill="#000"/>
<circle cx="211.8" cy="544.76" r="3.6" fill="#000"/>
<circle cx="253.6" cy="544.3" r="3.6" fill="#000"/>
<circle cx="337.2" cy="540.62" r="3.6" fill="#000"/>
<circle cx="170" cy="545.91" r="3.6" fill="#000"/>
<circle cx="190.9" cy="544.99" r="3.6" fill="#000"/>
<circle cx="211.8" cy="547.52" r="3.6" fill="#000"/>
<circle cx="253.6" cy="546.6" r="3.6" fill="#000"/>
<circle cx="337.2" cy="548.44" r="3.6" fill="#000"/>
<rect x="166.4" y="537.94" width="7.2" height="7.2" fill="#000"/>
<rect x="187.3" y="538.63" width="7.2" height="7.2" fill="#000"/>
<rect x="208.2" y="540.47" width="7.2" height="7.2" fill="#000"/>
<rect x="250" y="539.55" width="7.2" height="7.2" fill="#000"/>
<rect x="333.6" y="537.48" width="7.2" height="7.2" fill="#000"/>
<rect x="166.4" y="539.78" width="7.2" height="7.2" fill="#000"/>
<rect x="187.3" y="540.24" width="7.2" height="7.2" fill="#000"/>
<rect x="208.2" y="540.7" width="7.2" height="7.2" fill="#000"/>
<rect x="250" y="542.54" width="7.2" height="7.2" fill="#000"/>
<rect x="333.6" y="539.78" width="7.2" height="7.2" fill="#000"/>
</svg>
</body></html>
